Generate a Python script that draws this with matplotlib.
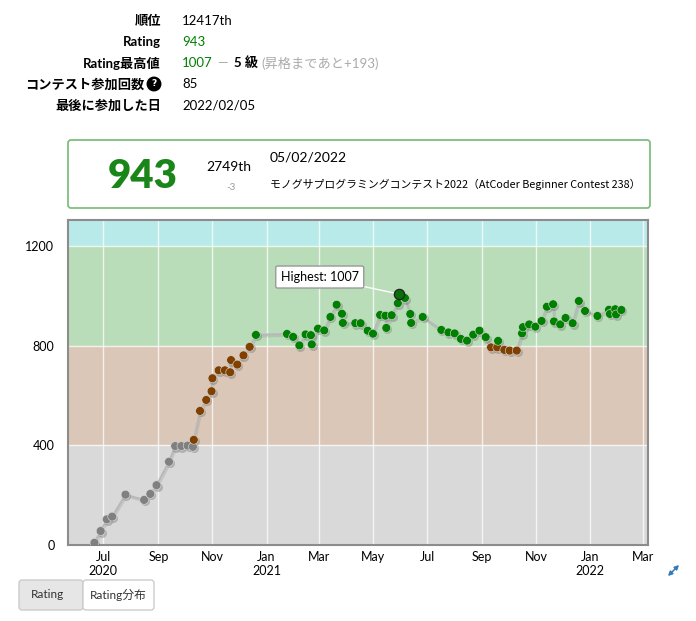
import numpy as np
import pandas as pd
import matplotlib
matplotlib.use("Agg")
import matplotlib.pyplot as plt
import matplotlib.dates as mdates
from matplotlib.patches import FancyBboxPatch
from matplotlib.transforms import ScaledTranslation

plt.rcParams['font.family'] = ['Lato', 'Noto Sans CJK JP', 'DejaVu Sans']

# contest history (date, rating after contest)
contest_dates = [
    "2020-06-21", "2020-06-28", "2020-07-05", "2020-07-11", "2020-07-26",
    "2020-08-16", "2020-08-23", "2020-08-30", "2020-09-13", "2020-09-20",
    "2020-09-27", "2020-10-04", "2020-10-10", "2020-10-11", "2020-10-18",
    "2020-10-25", "2020-10-31", "2020-11-01", "2020-11-08", "2020-11-15",
    "2020-11-21", "2020-11-22", "2020-11-29", "2020-12-06", "2020-12-13",
    "2020-12-20", "2021-01-24", "2021-01-31", "2021-02-07", "2021-02-14",
    "2021-02-20", "2021-02-21", "2021-02-28", "2021-03-07", "2021-03-14",
    "2021-03-21", "2021-03-27", "2021-03-28", "2021-04-11", "2021-04-17",
    "2021-04-25", "2021-05-01", "2021-05-09", "2021-05-15", "2021-05-16",
    "2021-05-22", "2021-05-29", "2021-05-30", "2021-06-06", "2021-06-12",
    "2021-06-13", "2021-06-26", "2021-07-17", "2021-07-25", "2021-08-01",
    "2021-08-08", "2021-08-15", "2021-08-22", "2021-08-29", "2021-09-05",
    "2021-09-11", "2021-09-18", "2021-09-19", "2021-09-26", "2021-10-02",
    "2021-10-10", "2021-10-16", "2021-10-17", "2021-10-24", "2021-10-31",
    "2021-11-07", "2021-11-13", "2021-11-20", "2021-11-21", "2021-11-28",
    "2021-12-04", "2021-12-12", "2021-12-19", "2021-12-26", "2022-01-09",
    "2022-01-22", "2022-01-23", "2022-01-29", "2022-01-30", "2022-02-05",
]
ratings = [
    9, 56, 103, 114, 202, 181, 205, 240, 334, 397,
    397, 399, 394, 422, 538, 582, 617, 669, 701, 701,
    693, 742, 724, 761, 795, 843, 847, 835, 801, 845,
    842, 805, 868, 861, 915, 964, 928, 891, 890, 890,
    860, 848, 923, 920, 871, 922, 970, 1007, 991, 927,
    891, 915, 863, 853, 849, 827, 820, 844, 860, 834,
    793, 793, 819, 783, 780, 780, 849, 874, 885, 876,
    899, 956, 966, 897, 885, 911, 890, 979, 939, 919,
    944, 927, 946, 925, 943,
]

band_edges = [0, 400, 800, 1200, 1600]
band_colors = ['#d9d9d9', '#dbc7b7', '#b9dcb9', '#b9eaea']
rank_colors = ['#808080', '#804000', '#008000']

info_labels = ['順位', 'Rating', 'Rating最高値', 'コンテスト参加回数', '最後に参加した日']
info_values = ['12417th', '943', '1007', '85', '2022/02/05']

last_rating = '943'
last_place = '2749th'
last_diff = '-3'
last_date = '05/02/2022'
last_contest = 'モノグサプログラミングコンテスト2022（AtCoder Beginner Contest 238）'

W, H = 696, 621
fig = plt.figure(figsize=(W / 100, H / 100), dpi=100)

# background axes in pixel coordinates for the page elements
bg = fig.add_axes([0, 0, 1, 1], zorder=0)
bg.set_xlim(0, W)
bg.set_ylim(H, 0)
bg.axis('off')

green = '#008000'
row_y = [21, 42, 63, 84, 105]
for i, (lab, y) in enumerate(zip(info_labels, row_y)):
    xr = 144 if i == 3 else 161
    bg.text(xr, y, lab, ha='right', va='center', fontsize=9.5, fontweight='bold')
bg.text(154, 84, '?', ha='center', va='center', fontsize=6.5, color='white',
        fontweight='bold', family='DejaVu Sans',
        bbox=dict(boxstyle='circle,pad=0.25', fc='black', ec='black'))

val_colors = ['black', green, green, 'black', 'black']
for val, y, c in zip(info_values, row_y, val_colors):
    bg.text(182, y, val, ha='left', va='center', fontsize=9.5, color=c)
bg.text(217, 63, '—', ha='left', va='center', fontsize=9.5, color='#aaaaaa')
bg.text(234, 63, '5 級', ha='left', va='center', fontsize=9.5, fontweight='bold')
bg.text(261, 63, '(昇格まであと+193)', ha='left', va='center', fontsize=9.5, color='#aaaaaa')

# latest contest box
bg.add_patch(FancyBboxPatch((68, 140), 582, 68, boxstyle='round,pad=0,rounding_size=3',
                            fc='white', ec='#7fbf7f', lw=1.3))
bg.text(143, 177, last_rating, ha='center', va='center', fontsize=29,
        fontweight='heavy', color='#1a861a')
bg.text(229, 167, last_place, ha='center', va='center', fontsize=10)
bg.text(231, 187, last_diff, ha='center', va='center', fontsize=7, color='#999999')
bg.text(270, 157, last_date, ha='left', va='center', fontsize=10)
bg.text(270, 184, last_contest, ha='left', va='center', fontsize=7.8,
        family=['Noto Sans CJK JP'])

# buttons under the chart
bg.add_patch(FancyBboxPatch((19, 580), 64, 30, boxstyle='round,pad=0,rounding_size=3',
                            fc='#e6e6e6', ec='#cccccc', lw=1))
bg.add_patch(FancyBboxPatch((83, 580), 71, 30, boxstyle='round,pad=0,rounding_size=3',
                            fc='white', ec='#cccccc', lw=1))
bg.text(47, 595, 'Rating', ha='center', va='center', fontsize=8.5, color='#333333')
bg.text(118, 595, 'Rating分布', ha='center', va='center', fontsize=8.5, color='#333333')
# expand icon (drawn as a double arrow)
bg.annotate('', xy=(679, 565), xytext=(668, 576),
            arrowprops=dict(arrowstyle='<|-|>,head_length=0.25,head_width=0.13',
                            color='#337ab7', lw=1.1, shrinkA=0, shrinkB=0))

# rating chart
ax = fig.add_axes([68.3 / W, 1 - 545 / H, 580 / W, 325 / H], zorder=1)
x = mdates.date2num(pd.to_datetime(contest_dates))
r = np.array(ratings)

for lo, hi, c in zip(band_edges[:-1], band_edges[1:], band_colors):
    ax.axhspan(lo, hi, color=c, lw=0, zorder=0)

ax.set_ylim(0, 1304)
ax.set_xlim(mdates.date2num(pd.Timestamp('2020-05-22 13:00')),
            mdates.date2num(pd.Timestamp('2022-03-07 07:00')))
ax.set_yticks([0, 400, 800, 1200])
ax.xaxis.set_major_locator(mdates.MonthLocator(bymonth=[1, 3, 5, 7, 9, 11]))


def month_fmt(v, pos=None):
    d = mdates.num2date(v)
    s = d.strftime('%b')
    if d.month == 1 or (d.year == 2020 and d.month == 7):
        s += '\n' + str(d.year)
    return s


ax.xaxis.set_major_formatter(plt.FuncFormatter(month_fmt))
ax.tick_params(length=0, labelsize=9)
ax.tick_params(axis='y', pad=10)
ax.tick_params(axis='x', pad=4)
ax.grid(True, color='white', lw=1, alpha=0.75, zorder=1)
ax.set_axisbelow(True)
for s in ax.spines.values():
    s.set_color('#8c8c8c')
    s.set_linewidth(1.5)

shadow = ax.transData + ScaledTranslation(1 / 100, -1.5 / 100, fig.dpi_scale_trans)
ax.plot(x, r, color='#999999', lw=2, alpha=0.3, transform=shadow, zorder=2)
ax.plot(x, r, color='#b8b8b8', lw=1.4, zorder=3)

pt_colors = np.select([r < 400, r < 800], rank_colors[:2], rank_colors[2])
ax.scatter(x, r, s=42, c='#666666', alpha=0.35, lw=0, transform=shadow, zorder=4)
ax.scatter(x, r, s=40, c=pt_colors, edgecolors='#dddddd', linewidths=0.4, zorder=5)

hi = int(np.argmax(r))
ax.scatter([x[hi]], [r[hi]], s=55, c='#0a6e0a', edgecolors='#222222', linewidths=0.9, zorder=6)
ax.annotate(f'Highest: {r[hi]}', xy=(x[hi], r[hi]), xytext=(-79, 17),
            textcoords='offset pixels', ha='center', va='center', fontsize=9,
            bbox=dict(boxstyle='round,pad=0.4,rounding_size=0.15', fc='white',
                      ec='#999999', lw=1),
            arrowprops=dict(arrowstyle='-', color='white', lw=1, shrinkA=0, shrinkB=4),
            zorder=7)

fig.savefig('out.png', dpi=100)
